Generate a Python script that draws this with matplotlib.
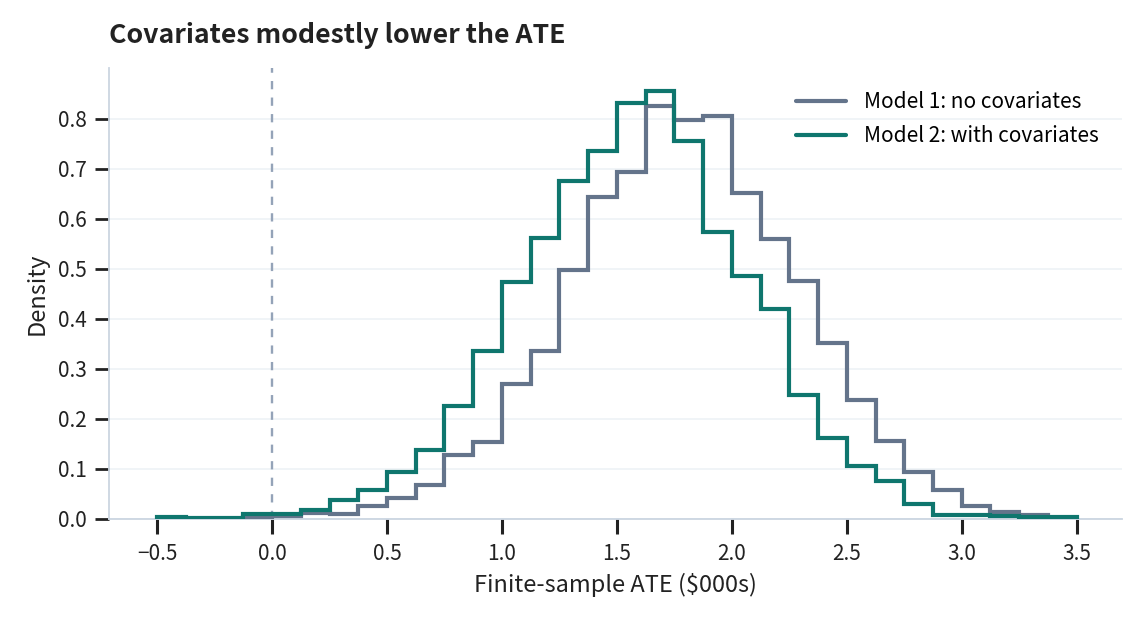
import numpy as np
import matplotlib
matplotlib.use("Agg")
from matplotlib import pyplot as plt

plt.rcParams['font.family'] = ['Noto Sans CJK SC', 'DejaVu Sans']

# bin edges (width 0.125) and densities
bin_width = 0.125
m2_start, m2_bins = -0.5, 32
m1_start, m1_bins = -0.125, 28

m1_density = [0.003, 0.006, 0.011, 0.009, 0.026, 0.041, 0.068, 0.128,
              0.153, 0.270, 0.336, 0.498, 0.643, 0.693, 0.826, 0.798,
              0.806, 0.651, 0.559, 0.475, 0.351, 0.238, 0.155, 0.093,
              0.058, 0.025, 0.013, 0.007]
m2_density = [0.004, 0.002, 0.002, 0.009, 0.009, 0.018, 0.038, 0.058,
              0.093, 0.138, 0.225, 0.336, 0.473, 0.561, 0.676, 0.736,
              0.831, 0.855, 0.755, 0.573, 0.486, 0.419, 0.248, 0.161,
              0.106, 0.076, 0.029, 0.008, 0.008, 0.006, 0.004, 0.003]

m1_edges = m1_start + bin_width * np.arange(m1_bins + 1)
m2_edges = m2_start + bin_width * np.arange(m2_bins + 1)

labels = ['Model 1: no covariates', 'Model 2: with covariates']
colors = ['#64748b', '#0f766e']

fig = plt.figure(figsize=(11.43, 6.23), dpi=100)
ax = fig.add_axes([0.0954, 0.167, 0.886, 0.724])

ax.stairs(m1_density, m1_edges, baseline=0, fill=False, color=colors[0],
          lw=3.0, label=labels[0], zorder=3)
ax.stairs(m2_density, m2_edges, baseline=0, fill=False, color=colors[1],
          lw=3.0, label=labels[1], zorder=4)
ax.axvline(0, color='#94a3b8', lw=1.7, ls=(0, (3.5, 3.5)), zorder=2)

ax.set_xlim(-0.709, 3.696)
ax.set_ylim(0, 0.902)
ax.set_xticks(np.arange(-0.5, 3.51, 0.5))
ax.set_yticks(np.arange(0, 0.81, 0.1))

ax.grid(axis='y', color='#eef2f6', lw=1.2, zorder=0)
ax.set_axisbelow(True)
for s in ['top', 'right']:
    ax.spines[s].set_visible(False)
for s in ['left', 'bottom']:
    ax.spines[s].set_color('#cbd5e1')
    ax.spines[s].set_linewidth(1.3)

ax.tick_params(axis='x', length=11, width=2.2, color='#222222', pad=6,
               labelsize=15, labelcolor='#222222')
ax.tick_params(axis='y', length=10, width=2, color='#222222', pad=6,
               labelsize=15, labelcolor='#222222')

ax.set_xlabel('Finite-sample ATE ($000s)', fontsize=17, color='#222222', labelpad=6)
ax.set_ylabel('Density', fontsize=17, color='#222222', labelpad=7)
ax.set_title('Covariates modestly lower the ATE', loc='left', fontsize=19.2,
             fontweight='bold', color='#222222', pad=18)

leg = ax.legend(loc='upper right', frameon=False, fontsize=15,
                handlelength=2.4, handletextpad=0.85, labelspacing=0.58,
                borderaxespad=0.7)
for line in leg.get_lines():
    line.set_linewidth(3)
    line.set_solid_capstyle('round')

fig.savefig('out.png', dpi=100)
